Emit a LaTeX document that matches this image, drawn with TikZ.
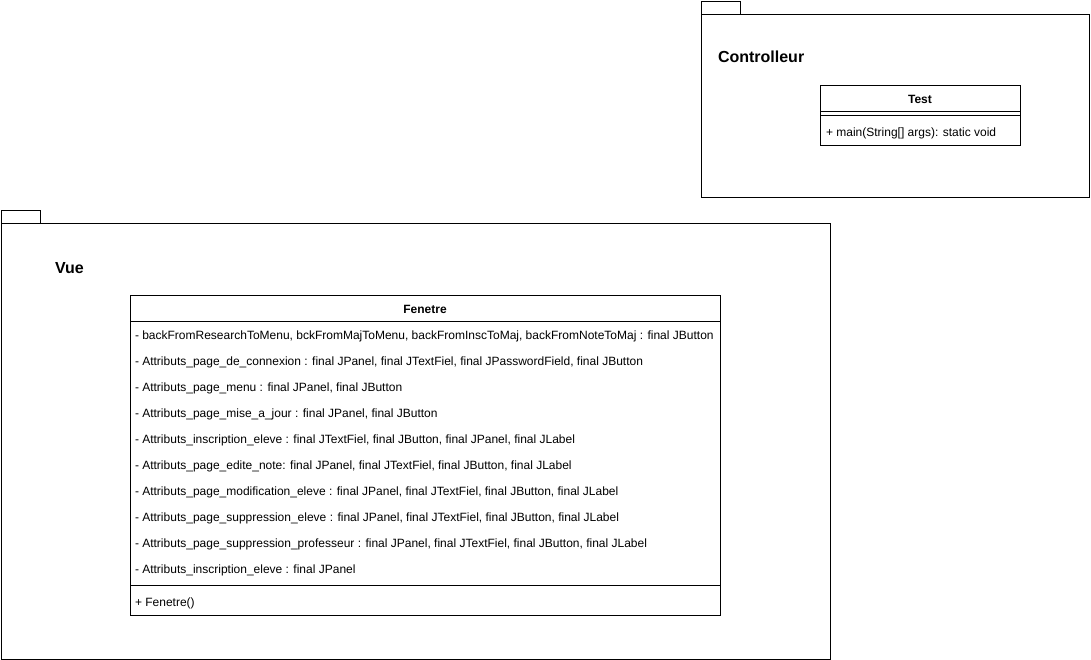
\documentclass[tikz,border=0pt]{standalone}
\usepackage{fontspec}
\setmainfont{Liberation Sans}
\usetikzlibrary{positioning}

\begin{document}
\begin{tikzpicture}[x=1pt, y=-1pt, line width=0.9pt]%
  \tikzset{package line/.style={draw,black}}
  \tikzset{class box/.style={draw,black,rectangle,anchor=north west,inner sep=0pt}}
  \tikzstyle{every node}=[inner sep=0pt, outer sep=0pt, font=\fontsize{12}{14}\selectfont]
  \tikzset{row text/.style={anchor=west}}
  \tikzset{package title/.style={anchor=west,font=\fontsize{16}{18}\selectfont\bfseries}}

  \useasboundingbox (0,0) rectangle (1091,660);

  % Controlleur
  \draw[package line] (701,1) rectangle (740,14);
  \draw[package line] (701,14) rectangle (1089,197);
  \node[package title] (ctrl) at (718,57) {Controlleur};

  \node[class box, minimum width=200pt, minimum height=60pt] (test) at (820,85) {};
  \node[font=\fontsize{12}{14}\selectfont\bfseries] (testname) at (920,99) {Test};
  \draw (test.north west) ++(0,26) coordinate (t1) -- (t1 -| test.east);
  \draw (test.north west) ++(0,30) coordinate (t2) -- (t2 -| test.east);
  \node[row text] (testmain) at (826,133.5) {+ main(String[] args): static void};

  % Vue
  \draw[package line] (1,210) rectangle (40,223);
  \draw[package line] (1,223) rectangle (830,659);
  \node[package title] (vue) at (55,268) {Vue};

  \node[class box, minimum width=590pt, minimum height=320pt] (fenetre) at (130,295) {};
  \node[font=\fontsize{12}{14}\selectfont\bfseries] (fenetrename) at (425,309) {Fenetre};
  \draw (fenetre.north west) ++(0,26) coordinate (f1) -- (f1 -| fenetre.east);
  \foreach \txt [count=\i] in {%
    {- backFromResearchToMenu, bckFromMajToMenu, backFromInscToMaj, backFromNoteToMaj : final JButton},
    {- Attributs\_page\_de\_connexion : final JPanel, final JTextFiel, final JPasswordField, final JButton},
    {- Attributs\_page\_menu : final JPanel, final JButton},
    {- Attributs\_page\_mise\_a\_jour : final JPanel, final JButton},
    {- Attributs\_inscription\_eleve : final JTextFiel, final JButton, final JPanel, final JLabel},
    {- Attributs\_page\_edite\_note: final JPanel, final JTextFiel, final JButton, final JLabel},
    {- Attributs\_page\_modification\_eleve : final JPanel, final JTextFiel, final JButton, final JLabel},
    {- Attributs\_page\_suppression\_eleve : final JPanel, final JTextFiel, final JButton, final JLabel},
    {- Attributs\_page\_suppression\_professeur : final JPanel, final JTextFiel, final JButton, final JLabel},
    {- Attributs\_inscription\_eleve : final JPanel}}
    \node[row text] (attr\i) at (135,{336+26*(\i-1)}) {\txt};
  \draw (fenetre.north west) ++(0,290) coordinate (f2) -- (f2 -| fenetre.east);
  \node[row text] (fenetrector) at (135,603.5) {+ Fenetre()};
\end{tikzpicture}
\end{document}
